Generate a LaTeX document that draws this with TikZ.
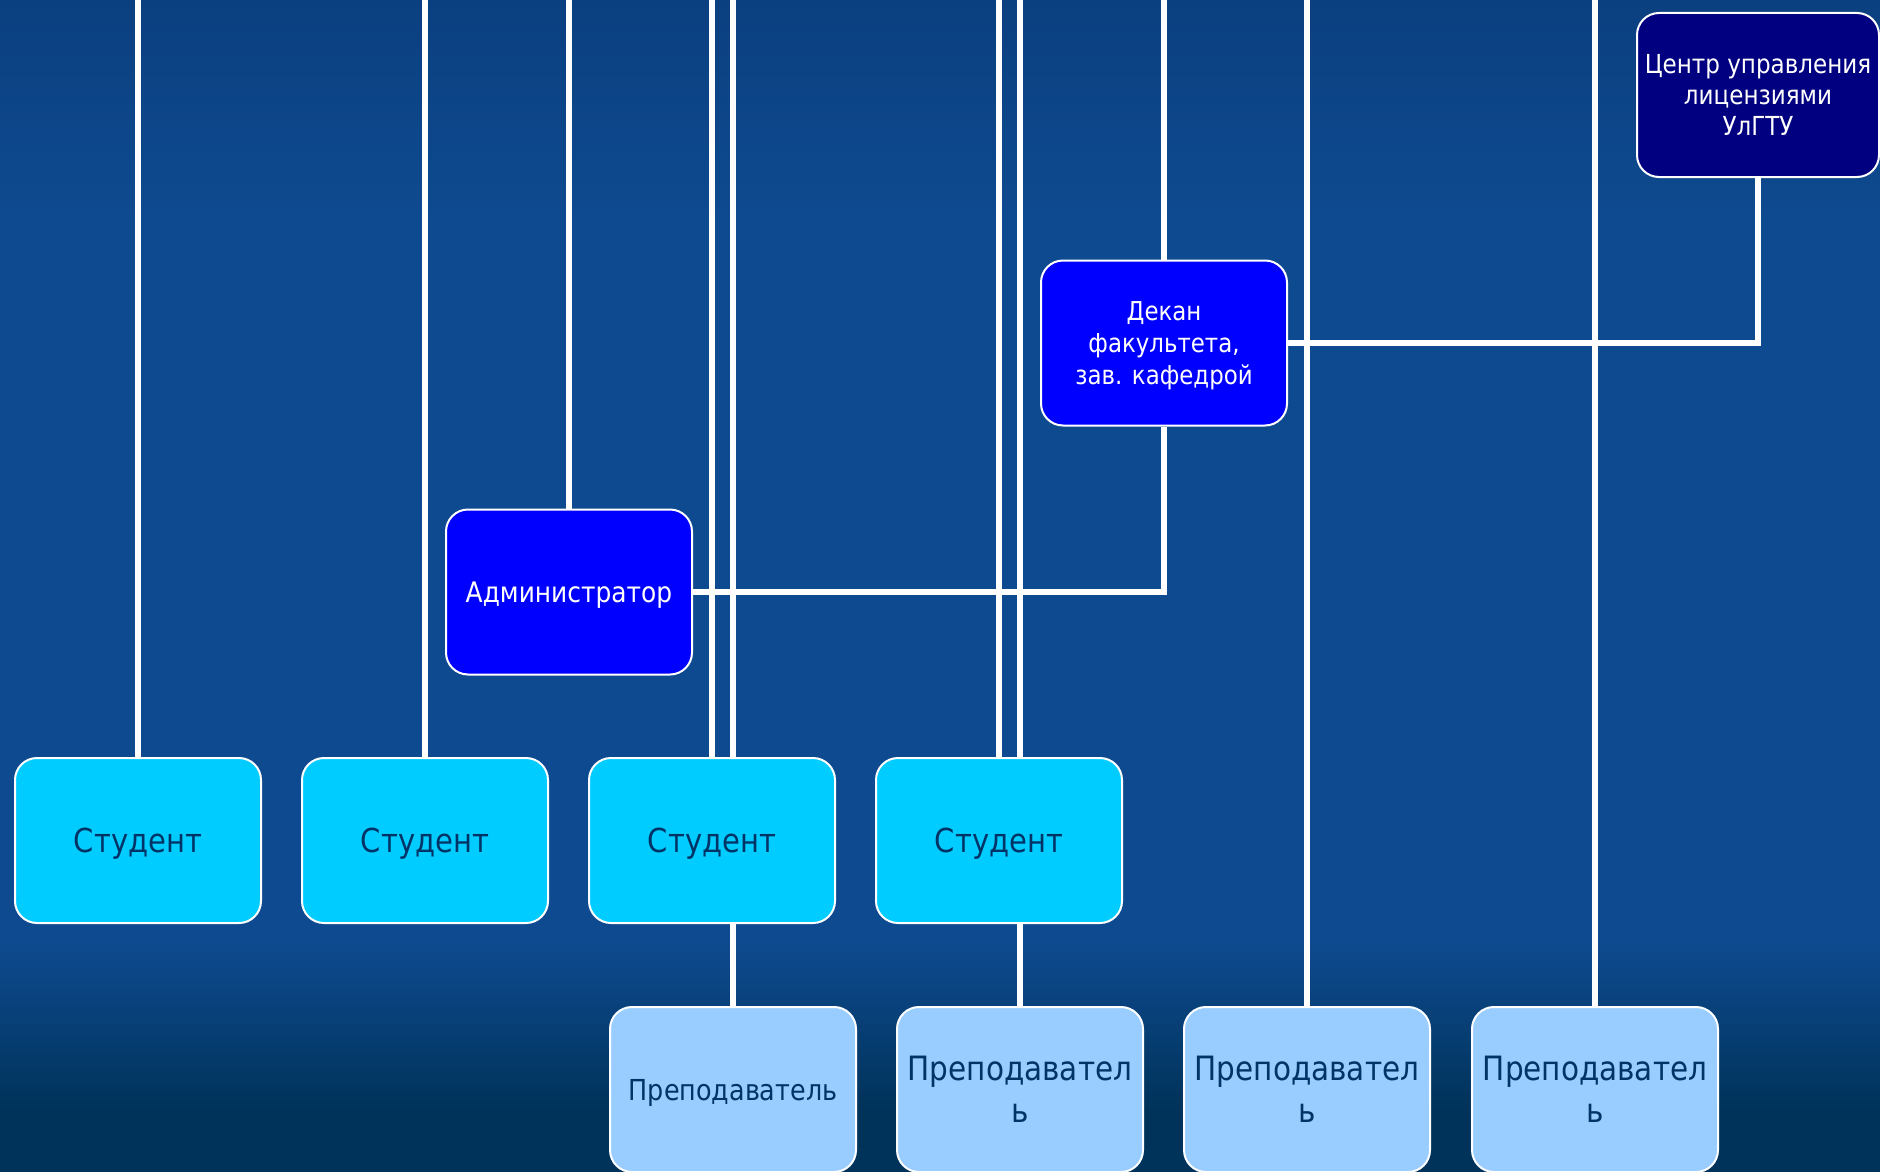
\documentclass[tikz,border=0pt]{standalone}
\usepackage{fontspec}
\setmainfont{DejaVu Sans}[FakeStretch=0.88]
\definecolor{sea}{RGB}{14,74,144}
\definecolor{seatop}{RGB}{11,64,128}
\definecolor{deepsea}{RGB}{0,51,90}
\definecolor{student}{RGB}{0,204,255}
\definecolor{teacher}{RGB}{153,204,255}
\definecolor{boss}{RGB}{0,0,255}
\definecolor{centre}{RGB}{0,0,128}
\definecolor{ink}{RGB}{0,51,102}
\pgfdeclarelayer{bg}
\pgfdeclarelayer{wires}
\pgfsetlayers{bg,wires,main}
\tikzset{
  box/.style={draw=white, line width=2pt, rounded corners=22pt, minimum width=246pt,
    minimum height=165pt, inner sep=0pt, text depth=0pt, align=center},
  studbox/.style={box, fill=student, text=ink, font=\fontsize{33}{40}\selectfont},
  teachbox/.style={box, fill=teacher, text=ink, font=\fontsize{33.5}{42}\selectfont},
  bossbox/.style={box, fill=boss, text=white},
  wire/.style={draw=white, line width=6.5pt}
}

\begin{document}
\begin{tikzpicture}[x=1pt,y=-1pt]
\useasboundingbox (0,0) rectangle (1880,1172);
\begin{pgfonlayer}{bg}
\fill[sea] (0,0) rectangle (1880,1172);
\shade[top color=seatop, bottom color=sea] (0,0) rectangle (1880,220);
\shade[top color=sea, bottom color=deepsea] (0,940) rectangle (1880,1110);
\fill[deepsea] (0,1110) rectangle (1880,1172);
\end{pgfonlayer}
\coordinate (top) at (0,0);

\node[box, fill=centre, text=white, minimum width=242pt, minimum height=164pt,
  font=\fontsize{26.2}{31}\selectfont] (ctr) at (1758,95) {Центр управления\\лицензиями\\УлГТУ};
\node[bossbox, font=\fontsize{26}{32}\selectfont] (dean) at (1164,343) {Декан\\факультета,\\зав. кафедрой};
\node[bossbox, font=\fontsize{28.3}{33}\selectfont] (adm) at (569,592) {Администратор};

\node[studbox] (s1) at (138,840.5) {Студент};
\node[studbox] (s2) at (425,840.5) {Студент};
\node[studbox] (s3) at (712,840.5) {Студент};
\node[studbox] (s4) at (999,840.5) {Студент};

\node[teachbox, font=\fontsize{28.9}{34}\selectfont] (p1) at (733,1089.5) {Преподаватель};
\node[teachbox] (p2) at (1020,1089.5) {Преподавател\\ь};
\node[teachbox] (p3) at (1307,1089.5) {Преподавател\\ь};
\node[teachbox] (p4) at (1595,1089.5) {Преподавател\\ь};

\begin{pgfonlayer}{wires}
\foreach \n in {s1,s2,s3,s4,adm,dean,p1,p2,p3,p4}
  \draw[wire] (\n.north) -- (\n.north |- top);
\draw[wire] (adm.east) -| (dean.south);
\draw[wire] (dean.east) -| (ctr.south);
\end{pgfonlayer}
\end{tikzpicture}
\end{document}
